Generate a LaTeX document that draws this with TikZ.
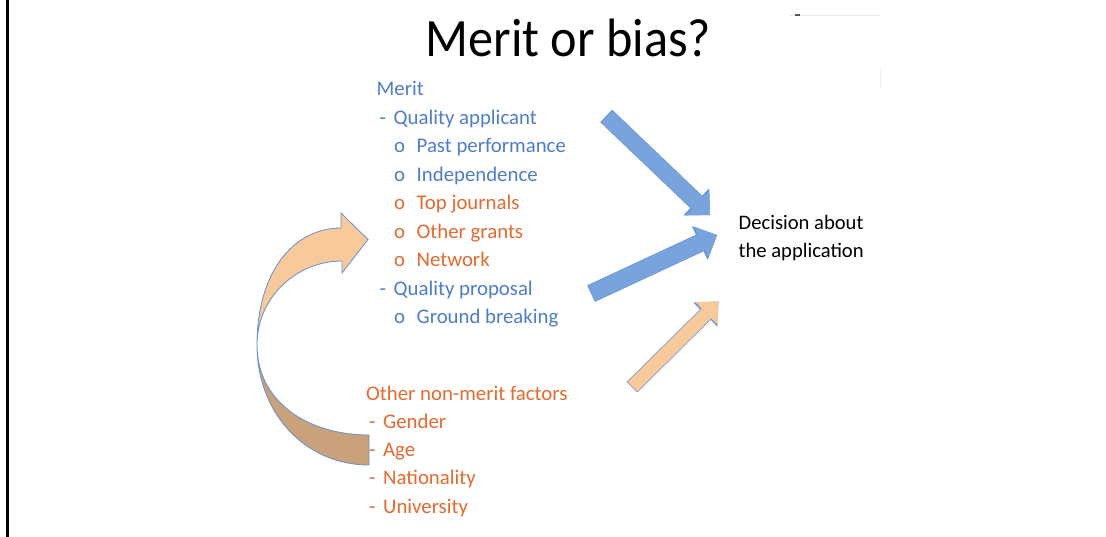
\documentclass[tikz,border=0pt]{standalone}
\usepackage{fontspec}
\setmainfont{Carlito}
\usetikzlibrary{arrows.meta}

\definecolor{meritblue}{HTML}{4F7DC9}
\definecolor{biasorange}{HTML}{E46A2E}
\definecolor{arrowblue}{HTML}{78A3DC}
\definecolor{arrowedge}{HTML}{6690CE}
\definecolor{peach}{HTML}{F7C99B}
\definecolor{backtan}{HTML}{C9A27C}

% list entries: dash item and ring item
\newcommand\dashitem[1]{\makebox[17pt][l]{\hspace{3pt}-}#1}
\newcommand\ringitem[1]{\hspace{17.5pt}\makebox[22.5pt][l]{o}#1}

\tikzset{
  list/.style={anchor=base west, inner sep=0pt, font=\fontsize{20.8}{28.5}\selectfont},
  rim/.style={draw=arrowedge, line width=#1, shorten <=-0.7pt,
    -{Triangle[width=37pt,length=19pt,line width=0pt]}},
  blueshaft/.style={draw=arrowblue, line width=#1,
    -{Triangle[width=35pt,length=17.5pt,line width=0pt]}},
  peachshaft/.style={draw=peach, line width=#1,
    -{Triangle[width=32pt,length=17pt,line width=0pt]}},
  bentarrow/.style={draw=arrowedge, line width=0.8pt, line join=miter},
}

\begin{document}
\begin{tikzpicture}[x=1pt,y=-1pt]
\useasboundingbox (0,0) rectangle (1106,537);
\fill[white] (0,0) rectangle (1106,537);
\fill[black] (5.8,0) rectangle (8.8,537);
% stray marks near the top right
\draw[gray!18, line width=0.8pt] (790,15) -- (880,15);
\fill[black!65] (795,14) rectangle (800,16.5);
\draw[gray!10, line width=0.8pt] (880,68) -- (880,90);

\node[anchor=base, inner sep=0pt, font=\fontsize{54}{60}\selectfont] (title) at (568.5,57)
  {\scalebox{0.93}[1]{Merit or bias?}};

% the bent arrow from the non-merit factors back to merit
\filldraw[bentarrow, fill=backtan] (369,465) .. controls (305,465) and (257,413) .. (257,345)
  .. controls (257,402) and (308,435) .. (369,435) -- cycle;
\filldraw[bentarrow, fill=peach] (257,345) .. controls (257,274) and (292,228) .. (341,228)
  -- (341,213) -- (368,239.5) -- (342,273) -- (342,261)
  .. controls (298,261) and (257,296) .. (257,345) -- cycle;

\node[list, text=meritblue] (merit) at (376.5,96) {%
  \begin{tabular}[t]{@{}l@{}}
  Merit\\
  \dashitem{Quality applicant}\\
  \ringitem{Past performance}\\
  \ringitem{Independence}\\
  \color{biasorange}\ringitem{Top journals}\\
  \color{biasorange}\ringitem{Other grants}\\
  \color{biasorange}\ringitem{Network}\\
  \dashitem{Quality proposal}\\
  \ringitem{Ground breaking}
  \end{tabular}};

\node[list, text=biasorange, font=\fontsize{20.8}{28.3}\selectfont] (other) at (366,400) {%
  \begin{tabular}[t]{@{}l@{}}
  Other non-merit factors\\
  \dashitem{Gender}\\
  \dashitem{Age}\\
  \dashitem{Nationality}\\
  \dashitem{University}
  \end{tabular}};

\node[list, font=\fontsize{20.6}{28}\selectfont] (decision) at (738.5,230) {%
  \begin{tabular}[t]{@{}l@{}}
  Decision about\\
  the application
  \end{tabular}};

% straight arrows into the decision
\coordinate (tailA) at (606.7,116.4);
\coordinate (tipA) at (710,215);
\coordinate (tailB) at (591.7,293.3);
\coordinate (tipB) at (717,235);
\coordinate (tailC) at (632.5,386.7);
\coordinate (tipC) at (718.5,301.5);

\draw[rim=17.2pt] (tailA) -- (tipA);
\draw[blueshaft=16pt] (tailA) -- (tipA);
\draw[rim=18.2pt] (tailB) -- (tipB);
\draw[blueshaft=17pt] (tailB) -- (tipB);
\draw[rim=14.9pt, -{Triangle[width=34pt,length=18.5pt,line width=0pt]}] (tailC) -- (tipC);
\draw[peachshaft=13.5pt] (tailC) -- (tipC);
\end{tikzpicture}
\end{document}
